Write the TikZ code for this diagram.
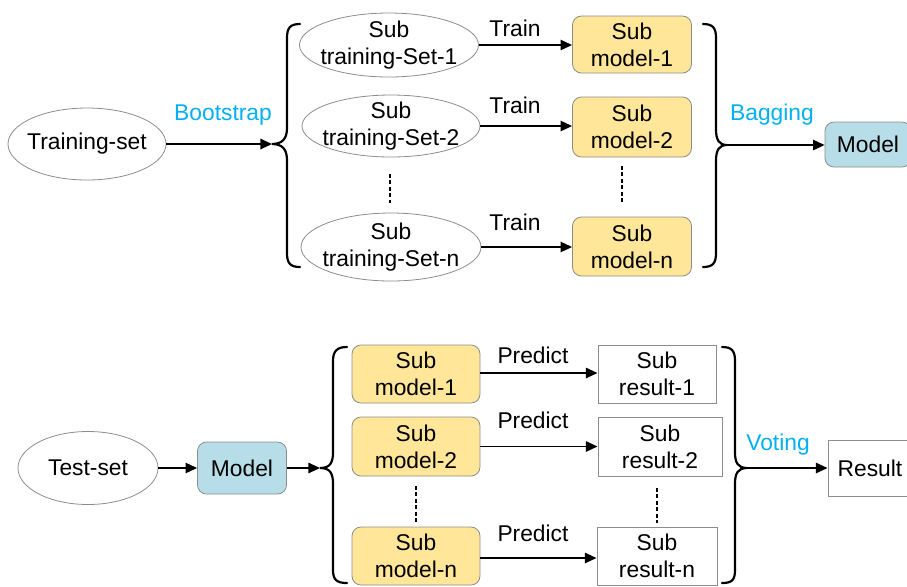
\documentclass[tikz,border=0pt]{standalone}
\usepackage{fontspec}
\setmainfont{Liberation Sans}
\usetikzlibrary{arrows.meta,shapes.geometric}
\definecolor{subyellow}{HTML}{FFE699}
\definecolor{modelblue}{HTML}{B7DEE8}
\definecolor{labelblue}{HTML}{00B0F0}
\definecolor{edgegray}{HTML}{8C8C8C}
\tikzset{
  txt/.style={font=\fontsize{11.4}{13.5}\selectfont, align=center, inner sep=0pt},
  ell/.style={txt, ellipse, draw=edgegray, line width=0.4pt, inner sep=-20pt},
  ybox/.style={txt, rectangle, rounded corners=4.5pt, draw=edgegray, fill=subyellow, line width=0.4pt},
  bbox/.style={txt, rectangle, rounded corners=4.5pt, draw=edgegray, fill=modelblue, line width=0.4pt},
  wbox/.style={txt, rectangle, draw=edgegray, line width=0.5pt},
  lbl/.style={txt},
  blbl/.style={txt, text=labelblue},
  arr/.style={-{Triangle[length=5.8pt,width=5.2pt]}, line width=0.75pt},
  bracepath/.style={line width=1.1pt, line cap=round},
  dotline/.style={dash pattern=on 2pt off 1.2pt, line width=0.7pt}
}
\begin{document}
\begin{tikzpicture}[x=0.5pt,y=-0.5pt]
\useasboundingbox (0,0) rectangle (907,586);
% ---------- top part ----------
\node[ell, minimum width=79pt, minimum height=36pt] (ts) at (87,144) {Training-set};
\node[ell, minimum width=89.5pt, minimum height=32pt] (e1) at (389,45) {Sub\\training-Set-1};
\node[ell, minimum width=89pt, minimum height=31pt] (e2) at (391,126) {Sub\\training-Set-2};
\node[ell, minimum width=90pt, minimum height=34pt] (en) at (391,247) {Sub\\training-Set-n};
\node[ybox, minimum width=59.5pt, minimum height=28.5pt] (sm1) at (632,44.5) {Sub\\model-1};
\node[ybox, minimum width=59.5pt, minimum height=30pt] (sm2) at (632,127) {Sub\\model-2};
\node[ybox, minimum width=59.5pt, minimum height=29.5pt] (smn) at (632,246.5) {Sub\\model-n};
\node[bbox, minimum width=43pt, minimum height=22.5pt] (model) at (868,144.5) {Model};

\node[blbl] (boot) at (223,115) {Bootstrap};
\node[blbl] (bag) at (772,115) {Bagging};
\node[lbl] (t1) at (515,28) {Train};
\node[lbl] (t2) at (515,105) {Train};
\node[lbl] (tn) at (515,222) {Train};

\coordinate (lb1) at (272,144);
\coordinate (rb1) at (727,145);
\draw[bracepath] (300,24) .. controls (290,24) and (287,28) .. (287,38) -- (287,128)
  .. controls (287,139) and (282,144) .. (lb1)
  .. controls (282,144) and (287,149) .. (287,160) -- (287,253)
  .. controls (287,263) and (290,267) .. (300,267);
\draw[bracepath] (703,24) .. controls (713,24) and (716,28) .. (716,38) -- (716,129)
  .. controls (716,140) and (719,145) .. (rb1)
  .. controls (719,145) and (716,150) .. (716,161) -- (716,253)
  .. controls (716,263) and (713,267) .. (703,267);

\draw[arr] (ts.east) -- (lb1);
\draw[arr] (e1.east) -- (e1.east -| sm1.west);
\draw[arr] (e2.east) -- (e2.east -| sm2.west);
\draw[arr] (en.east) -- (en.east -| smn.west);
\draw[arr] (rb1) -- (rb1 -| model.west);

\coordinate (d1a) at (390,174); \coordinate (d1b) at (390,203);
\coordinate (d2a) at (622,166); \coordinate (d2b) at (622,202);
\draw[dotline] (d1a) -- (d1b);
\draw[dotline] (d2a) -- (d2b);

% ---------- bottom part ----------
\node[ell, minimum width=70pt, minimum height=36.5pt] (test) at (88,468) {Test-set};
\node[bbox, minimum width=44.5pt, minimum height=26pt] (tmodel) at (242,468) {Model};
\node[ybox, minimum width=64pt, minimum height=29pt] (bs1) at (416,374) {Sub\\model-1};
\node[ybox, minimum width=64pt, minimum height=29.5pt] (bs2) at (416,446.5) {Sub\\model-2};
\node[ybox, minimum width=64pt, minimum height=29pt] (bsn) at (416,556) {Sub\\model-n};
\node[wbox, minimum width=59pt, minimum height=29pt] (r1) at (657,374) {Sub\\result-1};
\node[wbox, minimum width=62pt, minimum height=29.5pt] (r2) at (660,446.5) {Sub\\result-2};
\node[wbox, minimum width=60pt, minimum height=29pt] (rn) at (657,556) {Sub\\result-n};
\node[wbox, minimum width=42pt, minimum height=28pt] (result) at (870,468) {Result};

\node[blbl] (vote) at (778,445) {Voting};
\node[lbl] (p1) at (533,355) {Predict};
\node[lbl] (p2) at (533,420) {Predict};
\node[lbl] (pn) at (533,533) {Predict};

\coordinate (lb2) at (320,468);
\coordinate (rb2) at (747,468);
\draw[bracepath] (347,347) .. controls (337,347) and (333,351) .. (333,361) -- (333,452)
  .. controls (333,463) and (330,468) .. (lb2)
  .. controls (330,468) and (333,473) .. (333,484) -- (333,570)
  .. controls (333,580) and (337,583) .. (347,583);
\draw[bracepath] (722,347) .. controls (732,347) and (735,351) .. (735,361) -- (735,452)
  .. controls (735,463) and (738,468) .. (rb2)
  .. controls (738,468) and (735,473) .. (735,484) -- (735,570)
  .. controls (735,580) and (732,583) .. (722,583);

\draw[arr] (test.east) -- (tmodel.west);
\draw[arr] (tmodel.east) -- (lb2);
\draw[arr] (bs1.east |- 0,373) -- (r1.west |- 0,373);
\draw[arr] (bs2.east) -- (r2.west);
\draw[arr] (bs2.east |- 0,558) -- (rn.west |- 0,558);
\draw[arr] (rb2) -- (result.west);

\coordinate (d3a) at (416,486); \coordinate (d3b) at (416,522);
\coordinate (d4a) at (657,488); \coordinate (d4b) at (657,523);
\draw[dotline] (d3a) -- (d3b);
\draw[dotline] (d4a) -- (d4b);
\end{tikzpicture}
\end{document}
